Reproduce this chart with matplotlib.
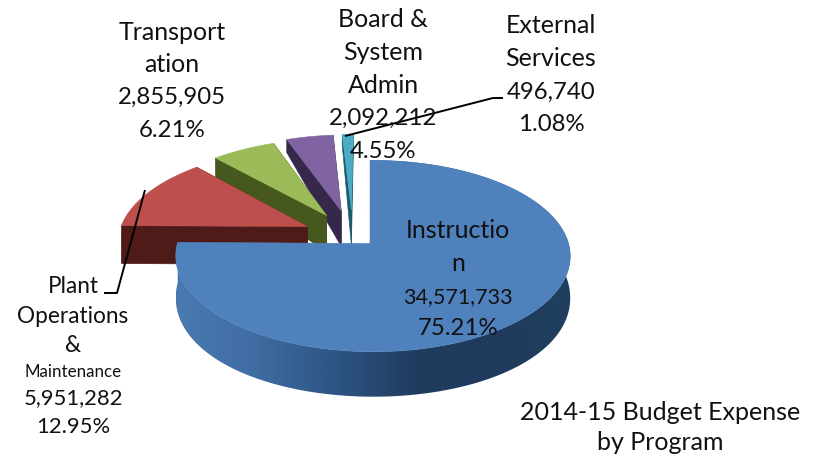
import numpy as np
import matplotlib
matplotlib.use("Agg")
import matplotlib.pyplot as plt
from matplotlib.colors import LinearSegmentedColormap
from matplotlib.patches import Polygon

# ---- data -------------------------------------------------------------
categories = ["Instruction", "Plant Operations & Maintenance", "Transportation",
              "Board & System Admin", "External Services"]
values = [34571733, 5951282, 2855905, 2092212, 496740]
value_labels = ["34,571,733", "5,951,282", "2,855,905", "2,092,212", "496,740"]
percent_labels = ["75.21%", "12.95%", "6.21%", "4.55%", "1.08%"]

# ---- style -------------------------------------------------------------
top_colors = ["#4f81bd", "#bd504d", "#9bbb59", "#8064a2", "#4bacc6"]
side_colors = [None, "#4f1b19", "#47581f", "#35284a", "#1f5a6c"]
explode_xy = [(0, 0), (-0.33, 0.186), (-0.232, 0.311), (-0.155, 0.365), (-0.10, 0.375)]
blue_side = LinearSegmentedColormap.from_list(
    "side", ["#4a7ab2", "#3f6ca1", "#2e5584", "#203d60", "#1f3a5c", "#21405f"])

CX, CY, RX, RY, K, J = 370.0, 243.5, 195.5, 94.0, 0.131, -0.015


def project(X, Y):
    w = 1 + K * Y + J * X
    return CX + RX * X / w, CY - RY * Y / w


def depth(Y):
    return 40.5 - 11.74 * Y - 7.23 * Y ** 2


fig = plt.figure(figsize=(8.17, 4.55), dpi=100)
ax = fig.add_axes([0, 0, 1, 1])

fractions = np.array(values, dtype=float) / np.sum(values)
edges = np.concatenate([[0], np.cumsum(fractions)]) * 2 * np.pi

# back to front
zorder = 1
for i in [4, 3, 2, 1, 0]:
    a0, a1 = edges[i], edges[i + 1]
    dx, dy = explode_xy[i]
    t = np.linspace(a0, a1, max(int((a1 - a0) * 60), 8))
    X = np.sin(t) + dx
    Y = np.cos(t) + dy
    sx, sy = project(X, Y)
    ax0, ay0 = project(np.array([dx]), np.array([dy]))
    d = depth(Y)
    d0 = depth(np.array([dy]))
    if i == 0:
        wall = np.column_stack([np.r_[sx, sx[::-1]], np.r_[sy, (sy + d)[::-1]]])
        clip = Polygon(wall, closed=True, fc="none", ec="none", transform=ax.transData)
        ax.add_patch(clip)
        im = ax.imshow(np.linspace(0, 1, 400)[None, :], cmap=blue_side, aspect="auto",
                       extent=(176, 572, 400, 150), zorder=zorder, interpolation="bilinear")
        im.set_clip_path(clip)
    else:
        for px, py, pd in [(sx[0], sy[0], d[0]), (sx[-1], sy[-1], d[-1])]:
            poly = [(ax0[0], ay0[0]), (px, py), (px, py + pd), (ax0[0], ay0[0] + d0[0])]
            ax.add_patch(Polygon(poly, closed=True, fc=side_colors[i], ec=side_colors[i],
                                 lw=0.5, zorder=zorder))
    zorder += 1
    top = np.column_stack([np.r_[ax0, sx], np.r_[ay0, sy]])
    ax.add_patch(Polygon(top, closed=True, fc=top_colors[i], ec=top_colors[i], lw=0.4,
                         zorder=zorder))
    zorder += 1

ax.set_xlim(0, 817)
ax.set_ylim(455, 0)
ax.axis("off")

# leader lines
ax.plot([145, 117, 104], [190, 293, 293], color="black", lw=1.4, zorder=20, solid_capstyle="butt")
ax.plot([345, 493, 503], [136, 98, 98], color="black", lw=1.4, zorder=20, solid_capstyle="butt")

# labels
FONT = "Lato"
FS = 18
NUM = 17.3
SMALL = 16.3
SNUM = 15.8


def label(x, lines):
    for y, s, fs in lines:
        ax.text(x, y, s, ha="center", va="baseline", fontsize=fs, family=FONT,
                color="#111111", zorder=21)


label(172, [(40, "Transport", FS), (72, "ation", FS), (104, value_labels[2], NUM), (137, percent_labels[2], NUM)])
label(383, [(27, "Board &", FS), (60, "System", FS), (93, "Admin", FS), (125, value_labels[3], NUM), (158, percent_labels[3], NUM)])
label(551, [(33, "External", FS), (66, "Services", FS), (99, value_labels[4], NUM), (131, percent_labels[4], NUM)])
label(458, [(238, "Instructio", FS), (271, "n", FS), (303, value_labels[0], 15.5), (335, percent_labels[0], NUM)])
label(73, [(293, "Plant", SMALL), (323, "Operations", SMALL), (352, "&", SMALL), (377, "Maintenance", 12.2),
           (404, value_labels[1], SNUM), (433, percent_labels[1], SNUM)])
label(660, [(420, "2014-15 Budget Expense", FS), (450, "by Program", FS)])

fig.savefig("out.png", dpi=100)
